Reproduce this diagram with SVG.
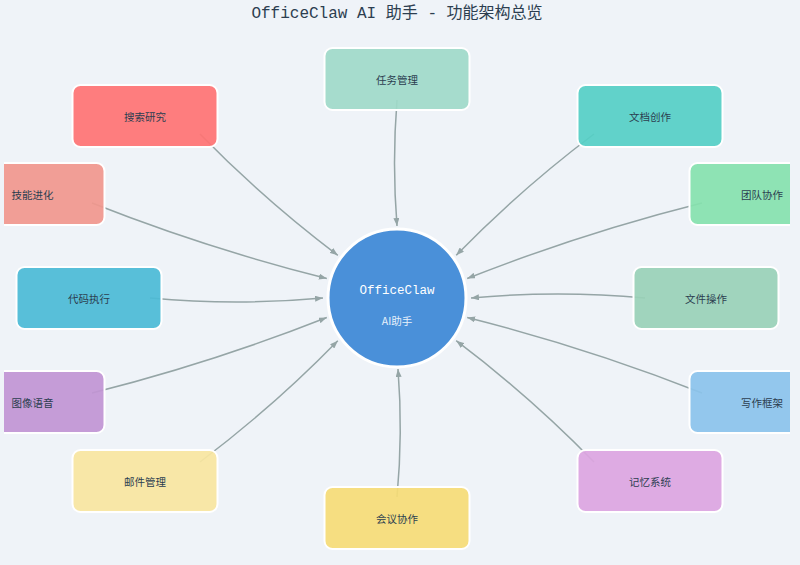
<svg xmlns="http://www.w3.org/2000/svg" width="800" height="565" viewBox="0 0 800 565">
<defs>
<style>
.title{font-family:"Liberation Mono","Noto Sans CJK SC",monospace;font-size:16px;fill:#2c3e50;text-anchor:middle}
.node rect{stroke:#ffffff;stroke-width:2;fill-opacity:0.92}
.node text{font-family:"Noto Sans CJK SC","Noto Sans",sans-serif;font-size:10.5px;fill:#2c3e50;text-anchor:middle;dominant-baseline:central}
.edge{fill:none;stroke:#95a5a6;stroke-width:1.5;marker-end:url(#arr)}
.ctitle{font-family:"Liberation Mono","Noto Sans CJK SC",monospace;font-size:12.5px;fill:#ffffff;text-anchor:middle}
.csub{font-family:"Noto Sans CJK SC","Noto Sans",sans-serif;font-size:10.5px;fill:#e8f1fb;text-anchor:middle}
</style>
<marker id="arr" markerUnits="userSpaceOnUse" markerWidth="8" markerHeight="6" refX="8" refY="3" orient="auto">
<path d="M0,0 L8,3 L0,6 z" fill="#95a5a6"/>
</marker>
<clipPath id="clip"><rect x="4" y="0" width="786" height="565"/></clipPath>
</defs>
<rect x="0" y="0" width="800" height="565" fill="#eff3f8"/>
<text class="title" x="397" y="18">OfficeClaw AI 助手 - 功能架构总览</text>

<g id="connectors">
<path class="edge" d="M397,100 Q392,163 397,226"/>
<path class="edge" d="M397,497 Q403,433 398,369"/>
<path class="edge" d="M200,134 Q264.3,199.9 337.8,255.3"/>
<path class="edge" d="M594,134 Q520.5,189.4 456.2,255.3"/>
<path class="edge" d="M92,203 Q207,248.4 326.8,278.5"/>
<path class="edge" d="M702,203 Q582.2,233.1 467.2,278.5"/>
<path class="edge" d="M150,298 Q236.5,306 323,298"/>
<path class="edge" d="M645,298 Q558,290 471,298"/>
<path class="edge" d="M92,393 Q211.8,362.9 326.8,317.5"/>
<path class="edge" d="M702,393 Q587,347.6 467.2,317.5"/>
<path class="edge" d="M200,462 Q273.5,406.6 337.8,340.7"/>
<path class="edge" d="M594,462 Q529.7,396.1 456.2,340.7"/>
</g>

<g clip-path="url(#clip)">
<g id="n-task" class="node"><rect x="324.5" y="48" width="145" height="62" rx="8" fill="#9fdac9"/><text x="397" y="79">任务管理</text></g>
<g id="n-search" class="node"><rect x="72.5" y="85" width="145" height="62" rx="8" fill="#ff7373"/><text x="145" y="116">搜索研究</text></g>
<g id="n-doc" class="node"><rect x="577.5" y="85" width="145" height="62" rx="8" fill="#55cfc6"/><text x="650" y="116">文档创作</text></g>
<g id="n-skill" class="node"><rect x="-40.5" y="163" width="145" height="62" rx="8" fill="#f1978d"/><text x="32.5" y="194">技能进化</text></g>
<g id="n-team" class="node"><rect x="689.5" y="163" width="145" height="62" rx="8" fill="#86e2ae"/><text x="762" y="194">团队协作</text></g>
<g id="n-code" class="node"><rect x="16.5" y="267" width="145" height="62" rx="8" fill="#4bbbd6"/><text x="89" y="298">代码执行</text></g>
<g id="n-file" class="node"><rect x="633.5" y="267" width="145" height="62" rx="8" fill="#99d1b7"/><text x="706" y="298">文件操作</text></g>
<g id="n-image" class="node"><rect x="-40.5" y="371" width="145" height="62" rx="8" fill="#c195d4"/><text x="32.5" y="402">图像语音</text></g>
<g id="n-write" class="node"><rect x="689.5" y="371" width="145" height="62" rx="8" fill="#8bc3eb"/><text x="762" y="402">写作框架</text></g>
<g id="n-mail" class="node"><rect x="72.5" y="450" width="145" height="62" rx="8" fill="#f8e6a0"/><text x="145" y="481">邮件管理</text></g>
<g id="n-memory" class="node"><rect x="577.5" y="450" width="145" height="62" rx="8" fill="#dca5e1"/><text x="650" y="481">记忆系统</text></g>
<g id="n-meeting" class="node"><rect x="324.5" y="487" width="145" height="62" rx="8" fill="#f6dc76"/><text x="397" y="518">会议协作</text></g>
</g>

<g id="n-center">
<circle cx="397" cy="298" r="69" fill="#4a90d9" stroke="#ffffff" stroke-width="3"/>
<text class="ctitle" x="397" y="294">OfficeClaw</text>
<text class="csub" x="397" y="325">AI助手</text>
</g>
</svg>
